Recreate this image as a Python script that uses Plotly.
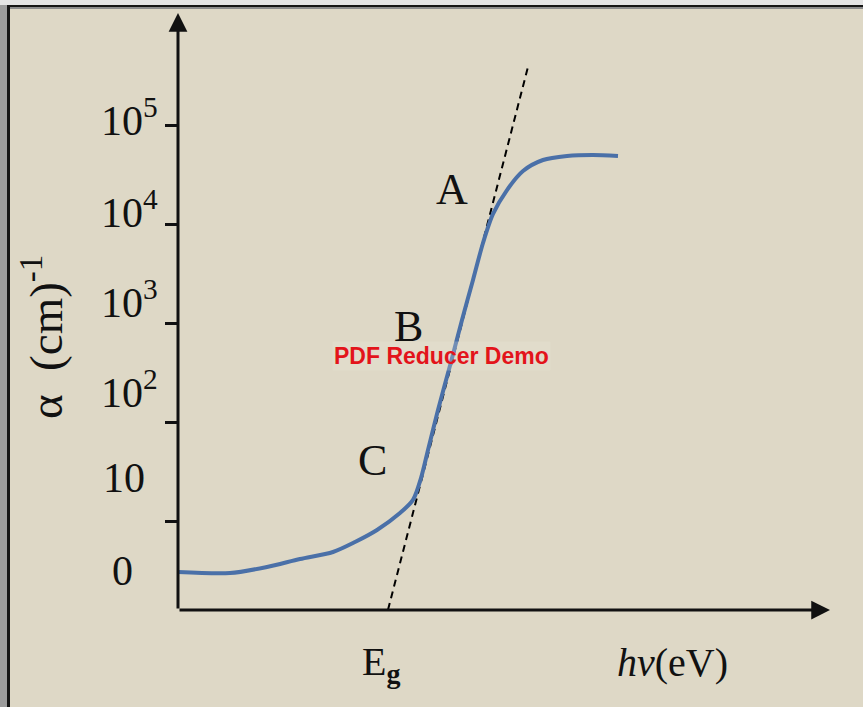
import plotly.graph_objects as go

# ---------------- data ----------------
hv = [0.00, 0.52, 0.89, 1.22, 1.55, 1.77, 1.99, 2.22, 2.35, 2.43, 2.50, 2.60,
      2.73, 2.84, 2.95, 3.05, 3.15, 3.29, 3.45, 3.65, 3.89, 4.15, 4.40]
alpha = [3.13, 3.05, 3.52, 4.23, 4.98, 6.28, 8.30, 12.3, 16.7, 27.7, 53.2, 135,
         411, 1090, 2760, 6520, 12800, 22300, 34700, 44800, 49200, 50400, 49200]

tangent_hv = [2.10, 3.50]
tangent_alpha = [1.3, 3.9e5]

tick_values = [10, 100, 1000, 10000, 100000]
tick_labels = ["10", "10<sup>2</sup>", "10<sup>3</sup>", "10<sup>4</sup>", "10<sup>5</sup>"]
zero_label = "0"
region_labels = ["A", "B", "C"]

# ---------------- style ----------------
BG = "#DED8C6"
SERIF = "Liberation Serif, Times New Roman, serif"
W, H = 863, 707
L, R, T, B = 178, 33, 13, 97
PW, PH = W - L - R, H - T - B


def px_x(p):
    return (p - L) / PW


def px_y(p):
    return (H - B - p) / PH


fig = go.Figure()

fig.add_trace(go.Scatter(
    x=tangent_hv, y=tangent_alpha, mode="lines",
    line=dict(color="black", width=2, dash="7px,5px"),
    hoverinfo="skip", showlegend=False))

fig.add_trace(go.Scatter(
    x=hv, y=alpha, mode="lines",
    line=dict(color="#4A70A8", width=4, shape="spline", smoothing=0.8),
    showlegend=False))

annotations = []

# axis arrows
annotations.append(dict(xref="paper", yref="paper", x=1, y=0, axref="pixel", ayref="pixel",
                        ax=-PW, ay=0, text="", showarrow=True, arrowhead=2, arrowsize=1.25,
                        arrowwidth=3, arrowcolor="#111111", standoff=0))
annotations.append(dict(xref="paper", yref="paper", x=0, y=1, axref="pixel", ayref="pixel",
                        ax=0, ay=PH, text="", showarrow=True, arrowhead=2, arrowsize=1.25,
                        arrowwidth=3, arrowcolor="#111111", standoff=0))

# tick labels (placed freely as in the original slide)
label_px_y = [478, 389, 299, 209, 118]
for i, (lab, py) in enumerate(zip(tick_labels, label_px_y)):
    if i == 0:
        annotations.append(dict(xref="paper", yref="paper", x=px_x(124), y=px_y(py),
                                xanchor="center", yanchor="middle", text=lab, showarrow=False,
                                font=dict(family=SERIF, size=42, color="#111111")))
    else:
        annotations.append(dict(xref="paper", yref="paper", x=px_x(99), y=px_y(py),
                                xanchor="left", yanchor="middle", text=lab, showarrow=False,
                                font=dict(family=SERIF, size=42, color="#111111")))
annotations.append(dict(xref="paper", yref="paper", x=px_x(122), y=px_y(571),
                        xanchor="center", yanchor="middle", text=zero_label, showarrow=False,
                        font=dict(family=SERIF, size=42, color="#111111")))

# region letters
for lab, (px, py) in zip(region_labels, [(452, 190), (408, 326), (372, 460)]):
    annotations.append(dict(xref="paper", yref="paper", x=px_x(px), y=px_y(py),
                            xanchor="center", yanchor="middle", text=lab, showarrow=False,
                            font=dict(family=SERIF, size=44, color="#111111")))

# axis titles
annotations.append(dict(xref="paper", yref="paper", x=px_x(381), y=px_y(664),
                        xanchor="center", yanchor="middle", text="E<sub><b>g</b></sub>",
                        showarrow=False, font=dict(family=SERIF, size=40, color="#111111")))
annotations.append(dict(xref="paper", yref="paper", x=px_x(672), y=px_y(662),
                        xanchor="center", yanchor="middle", text="<i>hv</i>(eV)",
                        showarrow=False, font=dict(family=SERIF, size=40, color="#111111")))
annotations.append(dict(xref="paper", yref="paper", x=px_x(42), y=px_y(337),
                        xanchor="center", yanchor="middle",
                        text="α\u00a0\u00a0(cm)<sup>-1</sup>",
                        textangle=-90, showarrow=False,
                        font=dict(family=SERIF, size=47, color="#111111")))

# watermark
annotations.append(dict(xref="paper", yref="paper", x=px_x(441), y=px_y(356),
                        xanchor="center", yanchor="middle", text="<b>PDF Reducer Demo</b>",
                        showarrow=False, bgcolor="rgba(236,232,220,0.25)",
                        font=dict(family="Liberation Sans, Arial, sans-serif", size=23,
                                  color="#E3141B")))


def frame_rect(x0, x1, y0, y1, color):
    # pixel rectangle relative to the page, used for the slide frame
    return dict(type="rect", xref="paper", yref="paper", xsizemode="pixel", ysizemode="pixel",
                xanchor=0, yanchor=0, x0=x0 - L, x1=x1 - L, y0=(H - B) - y0, y1=(H - B) - y1,
                line=dict(width=0), fillcolor=color, layer="below")


shapes = [
    frame_rect(0, W, 0, 5, "#E4E4E4"),
    frame_rect(0, 7, 5, H, "#9C9C9C"),
    frame_rect(7, 10, 5, H, "#151515"),
    frame_rect(7, W, 5, 7, "#151515"),
    frame_rect(10, W, 7, 9, "#8C8C8C"),
]

fig.update_layout(
    width=W, height=H,
    margin=dict(l=L, r=R, t=T, b=B, pad=0),
    paper_bgcolor=BG, plot_bgcolor=BG,
    showlegend=False,
    annotations=annotations,
    shapes=shapes,
    xaxis=dict(range=[0, 6.52], showticklabels=False, ticks="", showgrid=False,
               zeroline=False, showline=False, fixedrange=True),
    yaxis=dict(type="log", range=[0.112, 6.134], tickvals=tick_values, showticklabels=False,
               ticks="outside", ticklen=12, tickwidth=2.5, tickcolor="#111111",
               showgrid=False, zeroline=False, showline=False, fixedrange=True),
)

fig.write_html("out.html")
